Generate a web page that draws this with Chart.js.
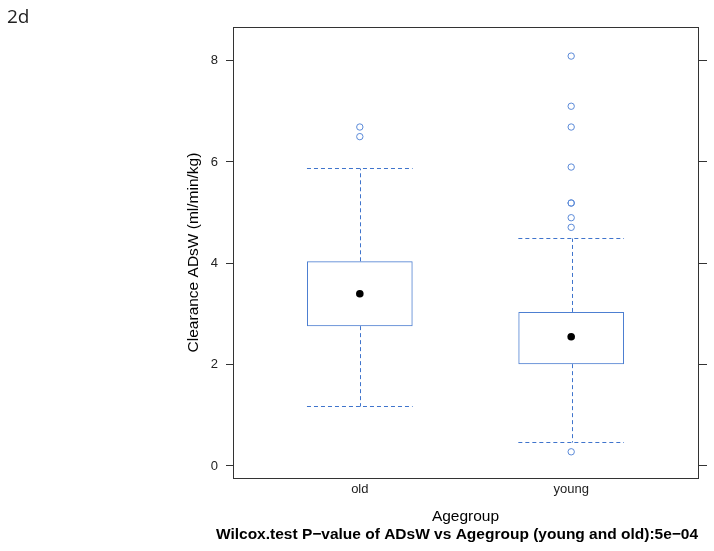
<!DOCTYPE html>
<html>
<head>
<meta charset="utf-8">
<script src="https://cdn.jsdelivr.net/npm/chart.js@4/dist/chart.umd.min.js"></script>
<style>
  html, body { margin: 0; padding: 0; background: #fff; }
  #wrap { position: relative; width: 714px; height: 551px; }
  #tag { position: absolute; left: 7px; top: 7px; font: 19px/1 "Open Sans", sans-serif; color: #222; }
</style>
</head>
<body>
<div id="wrap">
  <div id="tag">2d</div>
  <canvas id="boxChart" width="714" height="551"></canvas>
</div>
<script>
// données
const groups = ['old', 'young'];
const q1 = [2.76, 2.01];
const medians = [3.40, 2.55];
const q3 = [4.04, 3.04];
const whiskerLow = [1.20, 0.49];
const whiskerHigh = [5.89, 4.51];
const outliersOld = [6.69, 6.50];
const outliersYoung = [8.09, 7.10, 6.69, 5.90, 5.19, 5.19, 4.90, 4.71, 0.28];
const yTicks = [0, 2, 4, 6, 8];

const font = 'Liberation Sans, Arial, sans-serif';
const boxColor = '#4d7fd1';
const whiskerColor = '#3f74cc';
const pointColor = '#5b8ad8';
const halfBox = 0.25;

const outlierPoints = [
    ...outliersOld.map(v => ({ x: 1, y: v })),
    ...outliersYoung.map(v => ({ x: 2, y: v }))
];

// aligne les traits fins sur une colonne/ligne paire (sinon la couleur se perd à la capture)
const px = v => Math.round(v / 2) * 2 + 0.5;

// moustaches en pointillés + cadre
const boxPlugin = {
    id: 'whiskers',
    beforeDatasetsDraw(chart) {
        const { ctx, scales: { x, y } } = chart;
        groups.forEach((g, i) => {
            const cx = px(x.getPixelForValue(i + 1));
            const l = x.getPixelForValue(i + 1 - halfBox);
            const r = x.getPixelForValue(i + 1 + halfBox);
            const hi = px(y.getPixelForValue(whiskerHigh[i]));
            const lo = px(y.getPixelForValue(whiskerLow[i]));
            ctx.save();
            ctx.strokeStyle = whiskerColor;
            ctx.lineWidth = 1;
            ctx.setLineDash([4, 3]);
            ctx.beginPath();
            ctx.moveTo(cx, y.getPixelForValue(q3[i]));
            ctx.lineTo(cx, hi);
            ctx.moveTo(cx, y.getPixelForValue(q1[i]));
            ctx.lineTo(cx, lo);
            ctx.stroke();
            ctx.beginPath();
            ctx.moveTo(l, hi);
            ctx.lineTo(r, hi);
            ctx.moveTo(l, lo);
            ctx.lineTo(r, lo);
            ctx.stroke();
            ctx.restore();
        });
    },
    afterDraw(chart) {
        const { ctx, chartArea: a } = chart;
        ctx.save();
        ctx.strokeStyle = '#333';
        ctx.lineWidth = 1;
        ctx.strokeRect(a.left + 0.5, a.top + 0.5, a.right - a.left, a.bottom - a.top);
        ctx.restore();
    }
};

const yRange = { min: -0.237, max: 8.664 };

new Chart(document.getElementById('boxChart'), {
    type: 'scatter',
    data: {
        datasets: [
            {
                data: medians.map((v, i) => ({ x: i + 1, y: v })),
                pointRadius: 3.8,
                backgroundColor: '#000',
                borderColor: '#000',
                borderWidth: 0
            },
            {
                data: outlierPoints,
                pointRadius: 3.2,
                backgroundColor: 'rgba(0,0,0,0)',
                borderColor: pointColor,
                borderWidth: 1
            },
            {
                type: 'bar',
                data: groups.map((g, i) => ({ x: i + 1, y: [q1[i], q3[i]] })),
                backgroundColor: 'rgba(0,0,0,0)',
                borderColor: boxColor,
                borderWidth: 1,
                borderSkipped: false,
                categoryPercentage: 1,
                barPercentage: 2 * halfBox
            }
        ]
    },
    options: {
        responsive: false,
        animation: false,
        events: [],
        // la marge gauche sert à centrer le sous-titre comme dans l'original
        layout: { padding: { top: 27, left: 200, right: 0, bottom: 0 } },
        plugins: {
            legend: { display: false },
            tooltip: { enabled: false },
            title: {
                display: true,
                position: 'bottom',
                text: 'Wilcox.test P\u2212value of ADsW vs Agegroup (young and old):5e\u221204',
                color: '#000',
                font: { family: font, size: 15.5, weight: 'bold', lineHeight: 1 },
                padding: { top: 0, bottom: 8.5 }
            }
        },
        scales: {
            x: {
                type: 'linear',
                min: 0.4,
                max: 2.6,
                offset: false,
                afterBuildTicks: axis => { axis.ticks = groups.map((g, i) => ({ value: i + 1 })); },
                afterFit: axis => { axis.height = 49; },
                grid: { display: false, drawTicks: false },
                border: { display: false },
                ticks: {
                    padding: 4,
                    color: '#222',
                    font: { family: font, size: 13 },
                    callback: (v, i) => groups[i]
                },
                title: {
                    display: true,
                    text: 'Agegroup',
                    color: '#000',
                    font: { family: font, size: 15.5, lineHeight: 1 },
                    padding: { top: 0, bottom: 3 }
                }
            },
            y: {
                position: 'left',
                min: yRange.min,
                max: yRange.max,
                afterBuildTicks: axis => { axis.ticks = yTicks.map(v => ({ value: v })); },
                afterFit: axis => { axis.width = 33; },
                grid: { drawOnChartArea: false, tickLength: 7, tickColor: '#333' },
                border: { display: false },
                ticks: { padding: 8, color: '#222', font: { family: font, size: 13 } },
                title: {
                    display: true,
                    text: 'Clearance ADsW (ml/min/kg)',
                    color: '#000',
                    font: { family: font, size: 15.5, lineHeight: 1 },
                    padding: { top: -14, bottom: 0 }
                }
            },
            y2: {
                position: 'right',
                min: yRange.min,
                max: yRange.max,
                afterBuildTicks: axis => { axis.ticks = yTicks.map(v => ({ value: v })); },
                afterFit: axis => { axis.width = 16; },
                grid: { drawOnChartArea: false, tickLength: 9, tickColor: '#333' },
                border: { display: false },
                ticks: { display: false }
            }
        }
    },
    plugins: [boxPlugin]
});
</script>
</body>
</html>
